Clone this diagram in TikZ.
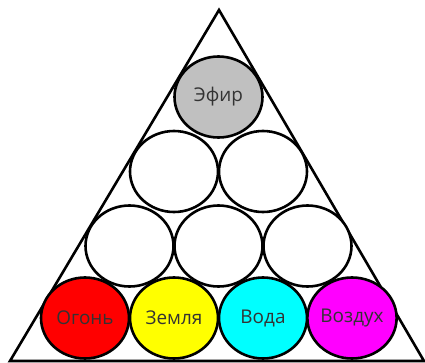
\documentclass[tikz,border=0pt]{standalone}
\usepackage{fontspec}
\setmainfont{Open Sans}
\usetikzlibrary{shapes.geometric}
\definecolor{txt}{HTML}{333333}
\definecolor{efir}{HTML}{C0C0C0}
\definecolor{cred}{HTML}{FF0000}
\definecolor{cyel}{HTML}{FFFF00}
\definecolor{ccyan}{HTML}{00FFFF}
\definecolor{cmag}{HTML}{FF00FF}
\tikzset{
  ball/.style={ellipse, draw=black, line width=2.6bp, minimum width=88bp, minimum height=81bp, inner sep=0pt, font=\fontsize{19}{22}\selectfont, text=txt},
  edge/.style={draw=black, line width=2.6bp, line join=miter}
}
\begin{document}
\begin{tikzpicture}[x=1bp,y=-1bp]
\useasboundingbox[fill=white] (0,0) rectangle (425,363);
\coordinate (apex) at (219,10);
\coordinate (bl) at (10,361);
\coordinate (br) at (424,361);
\draw[edge] (apex) -- (bl) -- (br) -- cycle;
% row 1
\node[ball, fill=efir] (efir) at (218.5,97) {Эфир};
% row 2
\node[ball, fill=white] (r2a) at (174,171.5) {};
\node[ball, fill=white] (r2b) at (263,171.5) {};
% row 3
\node[ball, fill=white] (r3a) at (129.5,246) {};
\node[ball, fill=white] (r3b) at (218.5,246) {};
\node[ball, fill=white] (r3c) at (307.5,246) {};
% row 4
\node[ball, fill=cred] (ogon) at (85,318) {Огонь};
\node[ball, fill=cyel] (zemlya) at (174,318) {Земля};
\node[ball, fill=ccyan] (voda) at (263,318) {Вода};
\node[ball, fill=cmag] (vozduh) at (352,318) {Воздух};
\end{tikzpicture}
\end{document}
